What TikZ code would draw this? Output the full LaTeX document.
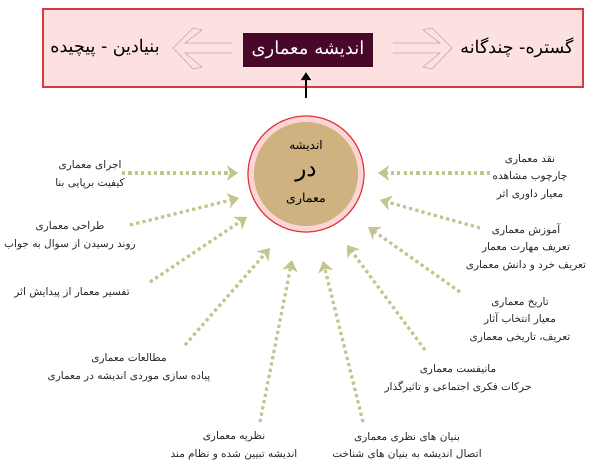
\documentclass[tikz,border=0pt]{standalone}
\usepackage{fontspec}
\newfontfamily\arabicfont[Script=Arabic]{DejaVu Sans}
\TeXXeTstate=1
\usetikzlibrary{arrows.meta}
\newcommand{\fa}[1]{\beginR #1\endR}
\definecolor{boxpink}{RGB}{253,224,224}
\definecolor{boxred}{RGB}{222,56,60}
\definecolor{darkplum}{RGB}{72,8,40}
\definecolor{hollowgray}{RGB}{196,168,168}
\definecolor{ringpink}{RGB}{252,214,214}
\definecolor{circtan}{RGB}{207,178,128}
\definecolor{dotolive}{RGB}{196,196,142}

\begin{document}
\begin{tikzpicture}[x=1pt,y=-1pt,
lbl/.style={font=\arabicfont\fontsize{10.5}{17.5}\selectfont, align=center, text=black!85, inner sep=1pt},
dotarr/.style={draw=dotolive, line width=3.2pt, dash pattern=on 3.2pt off 3.2pt, -{Stealth[length=11pt,width=15pt,inset=3pt]}},
hollowarr/.style={draw=hollowgray, line width=0.6pt, line join=miter},
]
\useasboundingbox (0,0) rectangle (589,465);
% top band
\draw[boxred, fill=boxpink, line width=1.2pt] (43,9) rectangle (583,87);
\node[fill=darkplum, text=white, minimum width=130pt, minimum height=34pt, inner sep=0pt,
  font=\arabicfont\fontsize{18}{20}\selectfont] (title) at (308,50) {\fa{اندیشه معماری}};
\draw[hollowarr] (232,43)--(185,43)--(202,30)--(193,28)--(173,48)--(193,69)--(202,67)--(185,53)--(232,53);
\draw[hollowarr] (393,43)--(440,43)--(423,30)--(432,28)--(452,48)--(432,69)--(423,67)--(440,53)--(393,53);
\node[font=\arabicfont\fontsize{17.5}{19}\selectfont] (basic) at (105,48) {\fa{بنیادین - پیچیده}};
\node[font=\arabicfont\fontsize{17.5}{19}\selectfont] (broad) at (517,48) {\fa{گستره- چندگانه}};

% centre circle
\node[circle, draw=boxred, line width=1.2pt, fill=ringpink, minimum size=116pt, inner sep=0pt] (ring) at (306,174) {};
\node[circle, fill=circtan, minimum size=104pt, inner sep=0pt] (core) at (306,174) {};
\node[font=\arabicfont\fontsize{12}{14}\selectfont] (c1) at (306,146) {\fa{اندیشه}};
\node[font=\arabicfont\fontsize{23}{25}\selectfont] (c2) at (306,175) {\fa{در}};
\node[font=\arabicfont\fontsize{12.5}{14}\selectfont] (c3) at (306,199) {\fa{معماری}};
\draw[line width=1.6pt, -{Triangle[length=8pt,width=10pt]}, shorten >=5pt] ([yshift=17pt]ring.north) -- (ring.north |- title.south);

% labels
\node[lbl] (exec) at (90,175) {\fa{اجرای معماری}\\\fa{کیفیت برپایی بنا}};
\node[lbl] (design) at (70,236) {\fa{طراحی معماری}\\\fa{روند رسیدن از سوال به جواب}};
\node[lbl] (interp) at (72,293) {\fa{تفسیر معمار از پیدایش اثر}};
\node[lbl] (study) at (129,368) {\fa{مطالعات معماری}\\\fa{پیاده سازی موردی اندیشه در معماری}};
\node[lbl] (theory) at (234,446) {\fa{نظریه معماری}\\\fa{اندیشه تبیین شده و نظام مند}};
\node[lbl] (found) at (407,446) {\fa{بنیان های نظری معماری}\\\fa{اتصال اندیشه به بنیان های شناخت}};
\node[lbl] (manif) at (458,379) {\fa{مانیفست معماری}\\\fa{حرکات فکری اجتماعی و تاثیرگذار}};
\node[lbl] (hist) at (520,320) {\fa{تاریخ معماری}\\\fa{معیار انتخاب آثار}\\\fa{تعریف، تاریخی معماری}};
\node[lbl] (edu) at (526,247) {\fa{آموزش معماری}\\\fa{تعریف مهارت معمار}\\\fa{تعریف خرد و دانش معماری}};
\node[lbl] (crit) at (530,177) {\fa{نقد معماری}\\\fa{چارچوب مشاهده}\\\fa{معیار داوری اثر}};

% dotted connectors
\coordinate (s1) at (122,173); \coordinate (t1) at (238,173);
\coordinate (s2) at (130,225); \coordinate (t2) at (239,198);
\coordinate (s3) at (150,282); \coordinate (t3) at (247,217);
\coordinate (s4) at (185,345); \coordinate (t4) at (270,248);
\coordinate (s5) at (260,422); \coordinate (t5) at (292,260);
\coordinate (s6) at (363,422); \coordinate (t6) at (323,261);
\coordinate (s7) at (425,350); \coordinate (t7) at (347,245);
\coordinate (s8) at (460,292); \coordinate (t8) at (368,227);
\coordinate (s9) at (480,228); \coordinate (t9) at (380,200);
\coordinate (s10) at (490,173); \coordinate (t10) at (378,173);
\foreach \i in {1,...,10}
  \draw[dotarr] (s\i) -- (t\i);
\end{tikzpicture}
\end{document}
